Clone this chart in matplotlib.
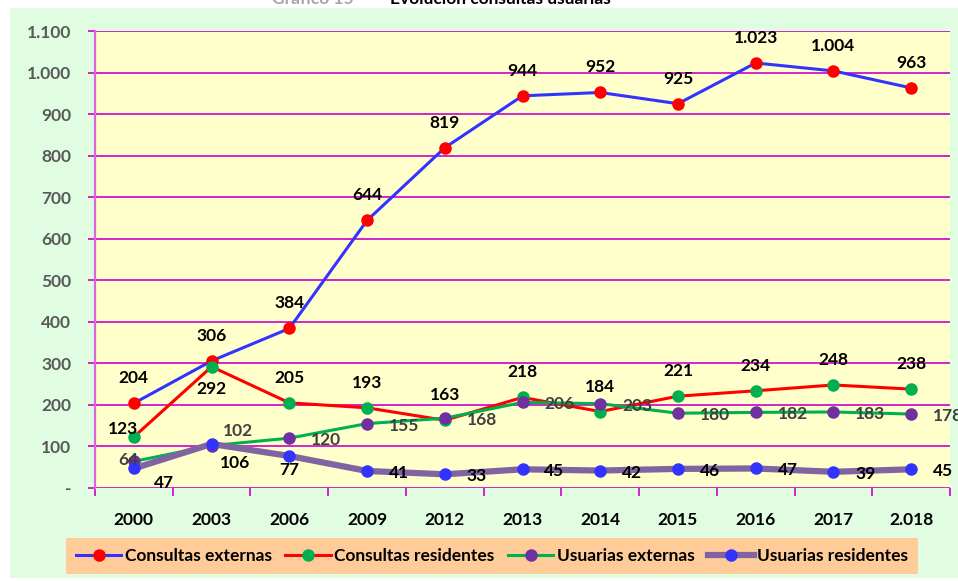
import numpy as np
import matplotlib.pyplot as plt
from matplotlib.patches import Rectangle
from matplotlib.ticker import FixedLocator, FuncFormatter

plt.rcParams['font.family'] = ['Lato', 'DejaVu Sans']
plt.rcParams['font.weight'] = 'bold'

years = ['2000', '2003', '2006', '2009', '2012', '2013', '2014', '2015', '2016', '2017', '2.018']
consultas_ext = [204, 306, 384, 644, 819, 944, 952, 925, 1023, 1004, 963]
consultas_res = [123, 292, 205, 193, 163, 218, 184, 221, 234, 248, 238]
usuarias_ext = [64, 102, 120, 155, 168, 206, 203, 180, 182, 183, 178]
usuarias_res = [47, 106, 77, 41, 33, 45, 42, 46, 47, 39, 45]


def miles(v):
    return f"{int(v):,}".replace(",", ".")


W, H = 958, 581
fig = plt.figure(figsize=(W / 100, H / 100), dpi=100)
fig.patch.set_facecolor('white')
fig.patches.append(Rectangle((10 / W, 3 / H), 948 / W, 570 / H, transform=fig.transFigure,
                             facecolor='#E1FDE1', edgecolor='none', zorder=-5))

# titulo (queda cortado por arriba)
fig.text(368 / W, 1 - 4 / H, 'Gráfico 15 –', ha='right', va='baseline',
         color='#A6A6A6', fontsize=12.5, fontweight='bold')
fig.text(390 / W, 1 - 4 / H, 'Evolución consultas usuarias', ha='left', va='baseline',
         color='black', fontsize=12.5, fontweight='bold')

ax = fig.add_axes([95 / W, (H - 488) / H, 855 / W, 457 / H])
ax.set_zorder(2)
ax.set_facecolor('#FFFFCC')
x = np.arange(len(years))
ax.set_xlim(-0.5, len(years) - 0.5)
ax.set_ylim(0, 1100)

ax.yaxis.set_major_locator(FixedLocator(np.arange(0, 1101, 100)))
ax.yaxis.set_major_formatter(FuncFormatter(lambda v, p: '-' if v == 0 else miles(v)))
ax.grid(axis='y', color='#CC00CC', lw=1.2, zorder=1)
ax.set_axisbelow(True)
for s in ['top', 'right', 'bottom']:
    ax.spines[s].set_visible(False)
ax.spines['left'].set_color('#DD66DD')
ax.spines['left'].set_linewidth(1.6)
ax.tick_params(axis='y', colors='#CC00CC', length=5, width=1.2, labelcolor='#595959',
               labelsize=12.5, pad=12)
ax.set_xticks(x)
ax.set_xticklabels(years)
ax.set_xticks(np.arange(-0.5, len(years)), minor=True)
ax.tick_params(axis='x', which='major', length=0, labelsize=12.5, labelcolor='black', pad=17)
ax.tick_params(axis='x', which='minor', length=6, width=1.2, color='#CC00CC')

series = [
    ('Consultas externas', consultas_ext, '#3333FF', 2.2, '#FF0000'),
    ('Consultas residentes', consultas_res, '#FF0000', 2.2, '#00B050'),
    ('Usuarias externas', usuarias_ext, '#00B050', 2.2, '#7030A0'),
    ('Usuarias residentes', usuarias_res, '#8064A2', 4.5, '#3333FF'),
]
for i, (name, vals, lc, lw, mc) in enumerate(series):
    ax.plot(x, vals, color=lc, lw=lw, marker='o', markersize=8, markerfacecolor=mc,
            markeredgecolor=mc, label=name, zorder=3 + i, clip_on=False)

# etiquetas de datos (desplazamientos en pixeles)
def etiquetas(vals, offsets, default, color='black'):
    for i, v in enumerate(vals):
        dx, dy = offsets.get(i, default)
        ax.annotate(miles(v), (x[i], v), xytext=(dx, dy), textcoords='offset pixels',
                    ha='center', va='center', fontsize=12.5, fontweight='bold',
                    color=color, zorder=10, annotation_clip=False)


etiquetas(consultas_ext, {}, (0, 25))
etiquetas(consultas_res, {0: (-11, 8), 1: (0, -22)}, (0, 25))
etiquetas(usuarias_ext, {0: (-6, 1), 1: (26, 15)}, (37, -2), color='#404040')
etiquetas(usuarias_res, {0: (30, -15), 1: (23, -19), 2: (0, -14)}, (32, -2))

leg = fig.legend(loc='center', bbox_to_anchor=(492 / W, (H - 556) / H), ncol=4,
                 frameon=True, fancybox=False, handlelength=2.6, handletextpad=0.2,
                 columnspacing=0.8, borderpad=0.6, prop={'size': 12.5, 'weight': 'bold'})
leg.get_frame().set_facecolor('#FFCC99')
leg.get_frame().set_edgecolor('none')
leg.get_frame().set_alpha(1)

fig.savefig('out.png', dpi=100, facecolor=fig.get_facecolor())
